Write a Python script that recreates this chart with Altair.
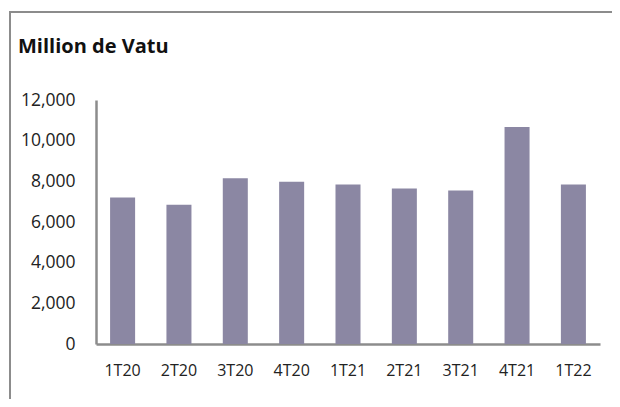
import altair as alt
import pandas as pd

quarters = ["1T20", "2T20", "3T20", "4T20", "1T21", "2T21", "3T21", "4T21", "1T22"]
values = [7200, 6850, 8150, 7980, 7850, 7650, 7550, 10670, 7850]
y_ticks = [0, 2000, 4000, 6000, 8000, 10000, 12000]
title_text = "Million de Vatu"

df = pd.DataFrame({"quarter": quarters, "value": values})

FONT = "Open Sans"
GREY = "#8c8c8c"

bars = alt.Chart(df).mark_bar(color="#8b87a3").encode(
    x=alt.X("quarter:N", sort=quarters,
            scale=alt.Scale(paddingInner=0.556, paddingOuter=0.25),
            axis=alt.Axis(title=None, labelAngle=0, ticks=False, labelPadding=18,
                          labelFontSize=16, labelFont=FONT, labelColor="#222222",
                          domainColor=GREY, domainWidth=2.5)),
    y=alt.Y("value:Q", scale=alt.Scale(domain=[0, 12000], nice=False),
            axis=alt.Axis(title=None, values=y_ticks, format=",.0f", grid=False, ticks=False,
                          labelPadding=21, labelFontSize=17.5, labelFont=FONT,
                          labelColor="#222222", domainColor=GREY, domainWidth=2.5)),
)

one = alt.Data(values=[{}])

title = alt.Chart(one).mark_text(
    text=title_text, font=FONT, fontSize=20, fontWeight="bold", align="left",
    baseline="middle", color="#111111"
).encode(x=alt.value(-78), y=alt.value(-53))

frame = alt.Chart(one).mark_rect(fill=None, stroke=GREY, strokeWidth=2).encode(
    x=alt.value(-86), x2=alt.value(700), y=alt.value(-88), y2=alt.value(500))

chart = alt.layer(frame, bars, title).properties(
    width=504, height=244,
    background="white",
    autosize=alt.AutoSizeParams(type="none"),
    padding={"left": 88, "top": 92, "right": 12, "bottom": 55},
).configure_view(stroke=None)

chart.save("out.html", embed_options={"renderer": "svg", "actions": False})
